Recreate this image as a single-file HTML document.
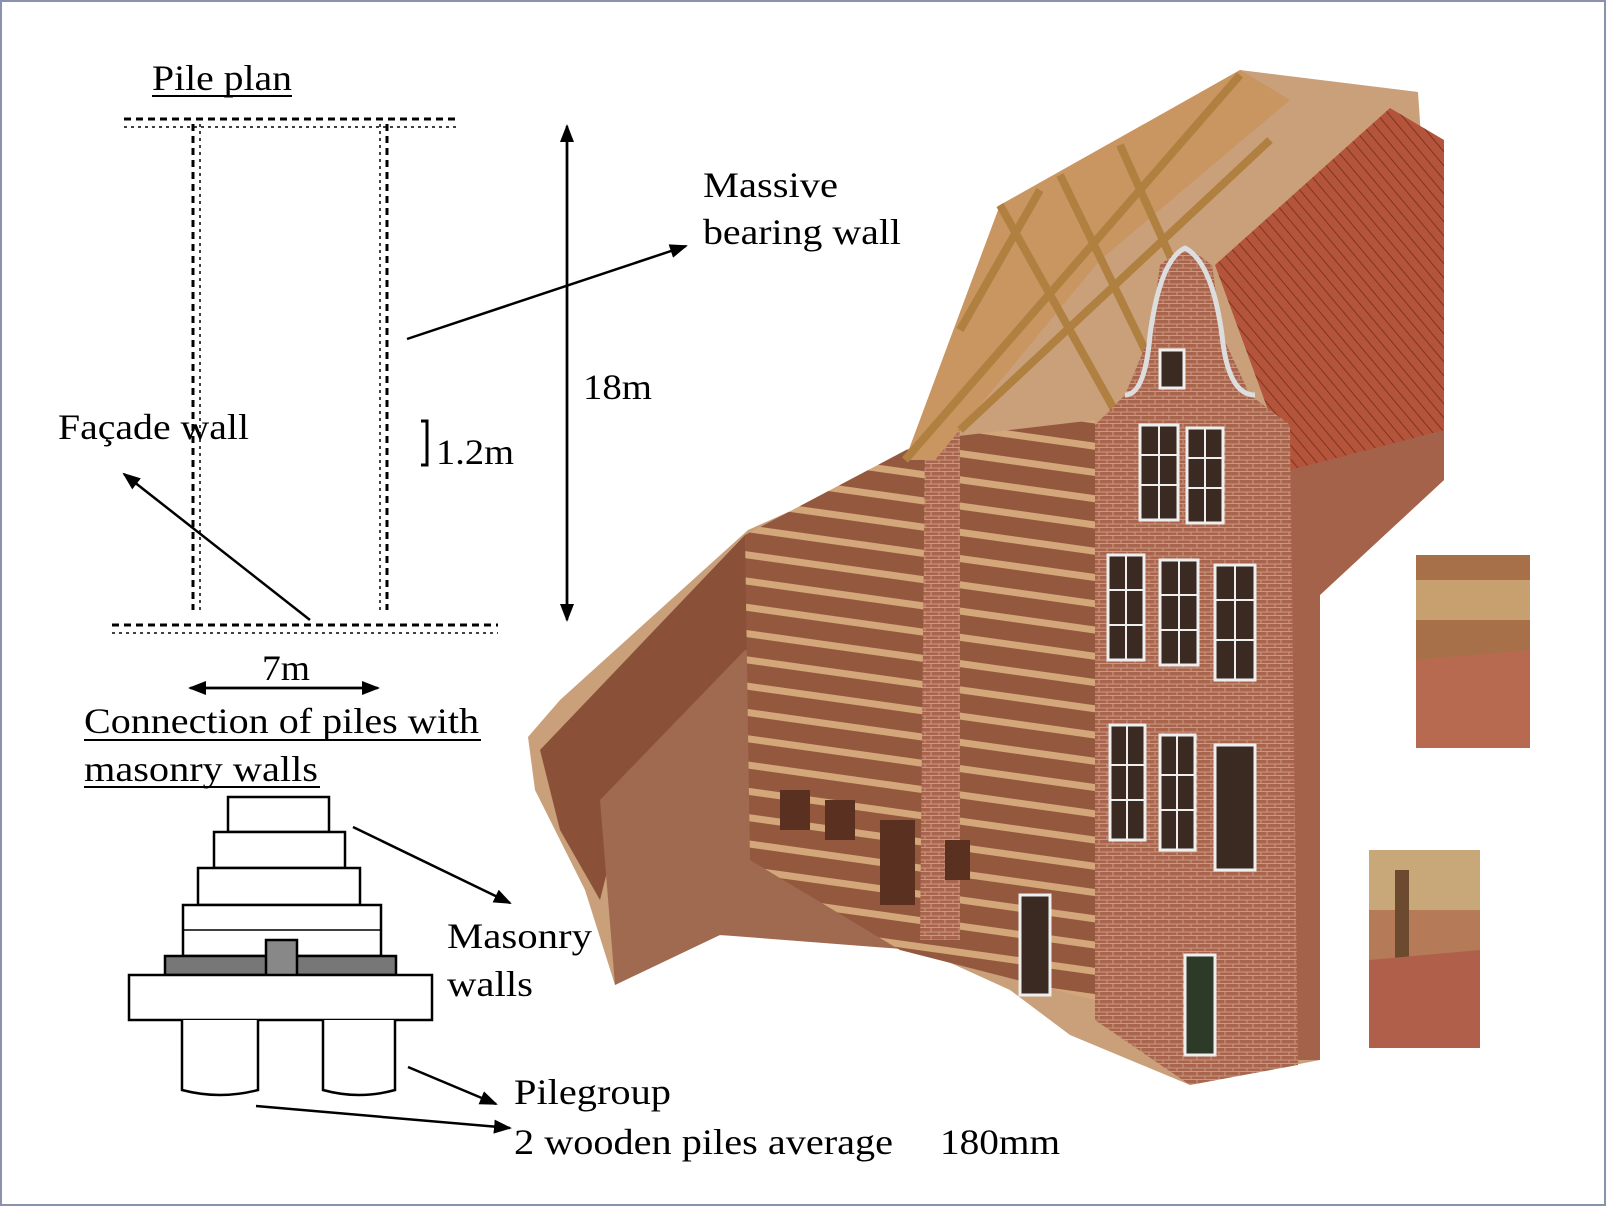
<!DOCTYPE html>
<html><head><meta charset="utf-8"><style>
html,body{margin:0;padding:0;background:#fff}
svg{display:block}
text{font-family:"Liberation Serif",serif;fill:#000}
</style></head><body>
<svg width="1606" height="1206" viewBox="0 0 1606 1206" xmlns="http://www.w3.org/2000/svg">
<defs>
<marker id="ah2" markerWidth="18" markerHeight="14" refX="16" refY="7" orient="auto" markerUnits="userSpaceOnUse"><path d="M0,0 L18,7 L0,14 z" fill="#000"/></marker>
<pattern id="brick" width="14" height="8" patternUnits="userSpaceOnUse"><rect width="14" height="8" fill="#a8644c"/><path d="M0,7.5H14M7,0V4M0,4H14M1,4V8" stroke="#c99a80" stroke-width="1"/></pattern>
<pattern id="roof" width="9" height="9" patternUnits="userSpaceOnUse" patternTransform="rotate(-40)"><rect width="9" height="9" fill="#b4543a"/><path d="M0,0V9" stroke="#7d3422" stroke-width="2"/></pattern>
<pattern id="beams" width="20" height="26" patternUnits="userSpaceOnUse" patternTransform="rotate(8)"><rect width="20" height="26" fill="#94583f"/><rect y="0" width="20" height="7" fill="#d3a77a"/></pattern>
</defs>
<rect x="1" y="1" width="1604" height="1204" fill="#fff" stroke="#8a93ad" stroke-width="2"/>

<!-- Pile plan -->
<text x="152" y="90" font-size="36" textLength="140" lengthAdjust="spacingAndGlyphs">Pile plan</text>
<line x1="152" y1="96" x2="292" y2="96" stroke="#000" stroke-width="2"/>
<g stroke="#000" stroke-width="3" stroke-dasharray="7 5" fill="none">
<path d="M124,119H460"/>
<path d="M193,124V610"/>
<path d="M387,124V610"/>
<path d="M112,625H498"/>
</g>
<g stroke="#000" stroke-width="1.5" stroke-dasharray="3 4" fill="none">
<path d="M124,127H460"/><path d="M112,633H498"/>
<path d="M200,124V610"/><path d="M380,124V610"/>
</g>

<line x1="567" y1="612" x2="567" y2="126" stroke="#000" stroke-width="2.5" marker-end="url(#ah2)"/>
<line x1="567" y1="130" x2="567" y2="620" stroke="#000" stroke-width="2.5" marker-end="url(#ah2)"/>
<text x="583" y="399" font-size="36" textLength="69" lengthAdjust="spacingAndGlyphs">18m</text>

<text x="703" y="197" font-size="36" textLength="135" lengthAdjust="spacingAndGlyphs">Massive</text>
<text x="703" y="244" font-size="36" textLength="198" lengthAdjust="spacingAndGlyphs">bearing wall</text>
<line x1="407" y1="339" x2="686" y2="246" stroke="#000" stroke-width="2.5" marker-end="url(#ah2)"/>

<text x="58" y="439" font-size="36" textLength="191" lengthAdjust="spacingAndGlyphs">Façade wall</text>
<line x1="310" y1="620" x2="124" y2="474" stroke="#000" stroke-width="2.5" marker-end="url(#ah2)"/>

<path d="M421,421H427V465H421" stroke="#000" stroke-width="3" fill="none"/>
<text x="436" y="464" font-size="36" textLength="78" lengthAdjust="spacingAndGlyphs">1.2m</text>

<text x="262" y="680" font-size="36" textLength="48" lengthAdjust="spacingAndGlyphs">7m</text>
<line x1="200" y1="688" x2="378" y2="688" stroke="#000" stroke-width="2.5" marker-end="url(#ah2)"/>
<line x1="370" y1="688" x2="190" y2="688" stroke="#000" stroke-width="2.5" marker-end="url(#ah2)"/>

<text x="84" y="733" font-size="36" textLength="395" lengthAdjust="spacingAndGlyphs">Connection of piles with</text>
<line x1="84" y1="740" x2="481" y2="740" stroke="#000" stroke-width="2"/>
<text x="84" y="781" font-size="36" textLength="234" lengthAdjust="spacingAndGlyphs">masonry walls</text>
<line x1="84" y1="787" x2="320" y2="787" stroke="#000" stroke-width="2"/>

<!-- pile detail -->
<g stroke="#000" stroke-width="2.5" fill="#fff">
<rect x="228" y="797" width="101" height="35"/>
<rect x="214" y="832" width="131" height="36"/>
<rect x="198" y="868" width="162" height="37"/>
<rect x="183" y="905" width="198" height="51"/>
<rect x="165" y="956" width="231" height="19" fill="#777"/>
<rect x="266" y="940" width="31" height="47" fill="#888"/>
<rect x="129" y="975" width="303" height="45"/>
<path d="M182,1020V1090Q220,1100 258,1090V1020"/>
<path d="M323,1020V1090Q359,1100 395,1090V1020"/>
</g>
<line x1="183" y1="930" x2="381" y2="930" stroke="#000" stroke-width="1.5"/>
<line x1="353" y1="827" x2="510" y2="903" stroke="#000" stroke-width="2.5" marker-end="url(#ah2)"/>
<text x="447" y="948" font-size="36" textLength="145" lengthAdjust="spacingAndGlyphs">Masonry</text>
<text x="447" y="996" font-size="36" textLength="86" lengthAdjust="spacingAndGlyphs">walls</text>
<line x1="408" y1="1067" x2="496" y2="1104" stroke="#000" stroke-width="2.5" marker-end="url(#ah2)"/>
<text x="514" y="1104" font-size="36" textLength="157" lengthAdjust="spacingAndGlyphs">Pilegroup</text>
<line x1="256" y1="1106" x2="510" y2="1128" stroke="#000" stroke-width="2.5" marker-end="url(#ah2)"/>
<text x="514" y="1154" font-size="36" textLength="379" lengthAdjust="spacingAndGlyphs">2 wooden piles average</text>
<text x="940" y="1154" font-size="36" textLength="120" lengthAdjust="spacingAndGlyphs">180mm</text>

<!-- house illustration -->
<polygon points="528,737 560,700 748,530 905,460 1000,205 1100,150 1240,70 1418,92 1444,480 1320,595 1320,1060 1190,1085 1070,1035 1010,990 900,940 715,935 615,985 585,890 535,790" fill="#c9a07a"/>
<polygon points="540,750 745,535 750,650 620,820 600,900 560,830" fill="#8a5038"/>
<polygon points="600,800 745,650 920,700 915,950 720,935 615,985" fill="#a06a50"/>
<polygon points="745,535 925,440 1095,420 1095,1000 900,950 750,860" fill="url(#beams)"/>
<polygon points="925,440 960,420 960,940 920,940" fill="url(#brick)"/>
<polygon points="1000,205 1240,70 1290,100 1100,260 935,460 905,460" fill="#c99560"/>
<g stroke="#b08040" stroke-width="8" fill="none">
<path d="M905,460L1240,75"/><path d="M960,430L1270,140"/><path d="M1000,205L1120,420"/><path d="M1060,175L1150,360"/><path d="M1120,145L1190,300"/><path d="M960,330L1040,190"/>
</g>
<polygon points="1215,265 1390,108 1444,140 1444,470 1290,470" fill="url(#roof)"/>
<polygon points="1290,470 1444,430 1444,480 1320,595 1320,1060 1290,1060" fill="#a5624a"/>
<polygon points="1095,425 1125,395 1150,335 1160,265 1185,245 1212,265 1222,335 1250,395 1290,425 1298,1065 1190,1085 1095,1020" fill="url(#brick)"/>
<path d="M1150,335 Q1160,260 1185,248 Q1212,262 1222,335 M1125,395 Q1145,395 1150,335 M1222,335 Q1228,395 1255,395" stroke="#ddd" stroke-width="5" fill="none"/>
<g fill="#3a2a22" stroke="#eee" stroke-width="3">
<rect x="1160" y="350" width="24" height="38"/>
<rect x="1140" y="425" width="38" height="95"/><rect x="1187" y="428" width="36" height="95"/>
<rect x="1108" y="555" width="36" height="105"/><rect x="1160" y="560" width="38" height="105"/><rect x="1215" y="565" width="40" height="115"/>
<rect x="1110" y="725" width="35" height="115"/><rect x="1160" y="735" width="35" height="115"/><rect x="1215" y="745" width="40" height="125"/>
<rect x="1020" y="895" width="30" height="100"/><rect x="1185" y="955" width="30" height="100" fill="#2e3a28"/>
</g>
<g stroke="#eee" stroke-width="2">
<path d="M1140,455H1178M1140,485H1178M1187,458H1223M1187,488H1223M1159,425V520M1205,428V523"/>
<path d="M1108,590H1144M1108,625H1144M1160,595H1198M1160,630H1198M1215,600H1255M1215,640H1255M1126,555V660M1179,560V665M1235,565V680"/>
<path d="M1110,765H1145M1110,800H1145M1160,775H1195M1160,810H1195M1127,725V840M1177,735V850"/>
</g>
<g fill="#5a3020"><rect x="780" y="790" width="30" height="40"/><rect x="825" y="800" width="30" height="40"/><rect x="880" y="820" width="35" height="85"/><rect x="945" y="840" width="25" height="40"/></g>

<!-- insets -->
<rect x="1416" y="555" width="114" height="193" fill="#a87048"/>
<rect x="1416" y="580" width="114" height="40" fill="#c8a070"/>
<polygon points="1416,660 1530,650 1530,748 1416,748" fill="#b86a50"/>
<rect x="1369" y="850" width="111" height="198" fill="#b57a58"/>
<rect x="1369" y="850" width="111" height="60" fill="#c8a878"/>
<rect x="1395" y="870" width="14" height="100" fill="#6b4a30"/>
<polygon points="1369,960 1480,950 1480,1048 1369,1048" fill="#b0604a"/>
</svg>
</body></html>
